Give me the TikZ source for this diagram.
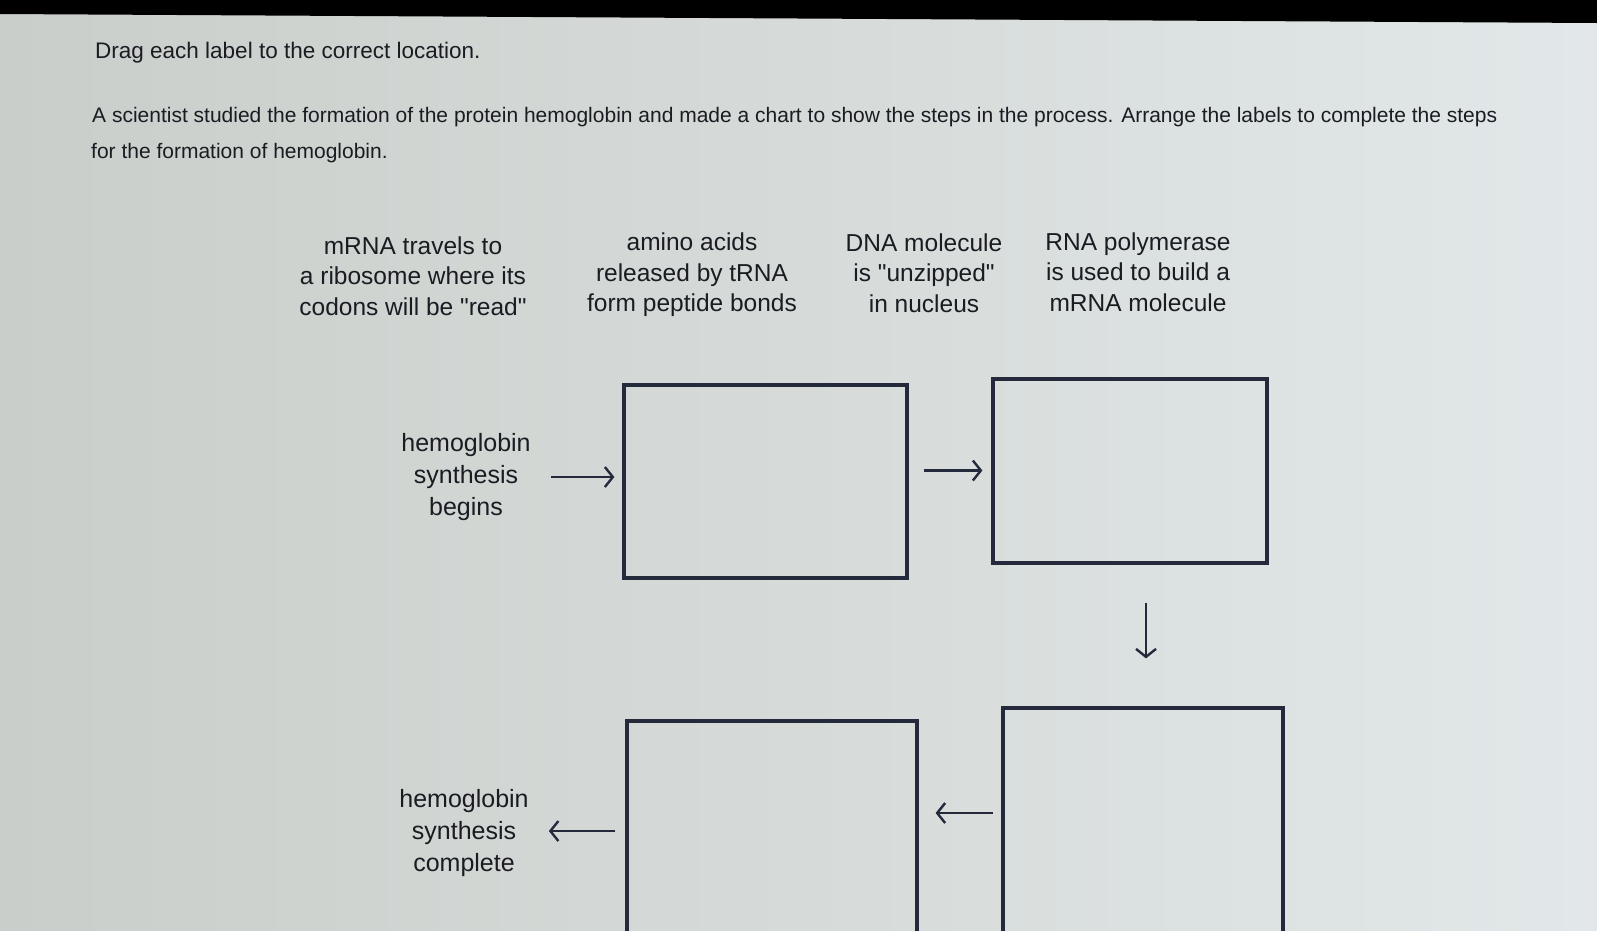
\documentclass[tikz,border=0pt]{standalone}
\usepackage{fontspec}
\setmainfont{Liberation Sans}[Ligatures=TeXOff]
\usetikzlibrary{arrows.meta, positioning, calc}
\definecolor{screenleft}{RGB}{202,206,202}
\definecolor{screenright}{RGB}{226,232,233}
\definecolor{inkdark}{RGB}{26,28,34}
\definecolor{boxline}{RGB}{36,42,60}

\begin{document}
\begin{tikzpicture}[
    x=1pt, y=-1pt,
    every node/.style={text=inkdark, inner sep=0pt},
    prompt/.style={anchor=west, font=\fontsize{21}{26}\selectfont},
    choice/.style={align=center, font=\fontsize{24.5}{30.5}\selectfont},
    endtext/.style={align=center, font=\fontsize{25}{32}\selectfont},
    slot/.style={rectangle, draw=boxline, line width=3.2pt},
    arrow/.style={-{Straight Barb[length=8pt, width=20pt, line width=2.4pt]}, line width=2.4pt, draw=boxline}
]
\clip (0,0) rectangle (1597,930);
\shade[left color=screenleft, right color=screenright] (0,0) rectangle (1597,930);
\fill[black] (0,0) -- (1597,0) -- (1597,23) -- (0,14) -- cycle;

% instructions
\node[prompt, font=\fontsize{22.5}{26}\selectfont] (drag) at (95,53) {Drag each label to the correct location.};
\node[prompt] (task1) at (92,117) {A scientist studied the formation of the protein hemoglobin and made a chart to show the steps in the process. Arrange the labels to complete the steps};
\node[prompt] (task2) at (91,153) {for the formation of hemoglobin.};

% labels to drag
\node[choice] (mrna) at (413,276) {mRNA travels to\\a ribosome where its\\codons will be "read"};
\node[choice] (amino) at (692,275) {amino acids\\released by tRNA\\form peptide bonds};
\node[choice] (unzip) at (924,273) {DNA molecule\\is "unzipped"\\in nucleus};
\node[choice] (polym) at (1138,272) {RNA polymerase\\is used to build a\\mRNA molecule};

% chart
\node[endtext] (begins) at (466,477) {hemoglobin\\synthesis\\begins};
\node[slot, minimum width=283pt, minimum height=193pt] (box1) at (765.5,481.5) {};
\node[slot, minimum width=274pt, minimum height=184pt] (box2) at (1130,471) {};
\node[slot, minimum width=280pt, minimum height=290pt] (box4) at (1143,853) {};
\node[slot, minimum width=290pt, minimum height=290pt] (box3) at (772,866) {};
\node[endtext] (complete) at (464,833) {hemoglobin\\synthesis\\complete};

\draw[arrow] ($(begins.east)+(20,0)$) -- ($(begins.east -| box1.west)+(-8,0)$);
\draw[arrow] ($(box1.east)+(15,-11)$) -- ($(box1.east -| box2.west)+(-9,-11)$);
\draw[arrow] ($(box4.north |- box2.south)+(3,38)$) -- ($(box4.north)+(3,-48)$);
\draw[arrow] ($(box4.west)+(-8,-40)$) -- ($(box3.east |- box4.west)+(17,-40)$);
\draw[arrow] ($(box3.west |- complete.east)+(-10,-2)$) -- ($(complete.east)+(20,-2)$);
\end{tikzpicture}
\end{document}
